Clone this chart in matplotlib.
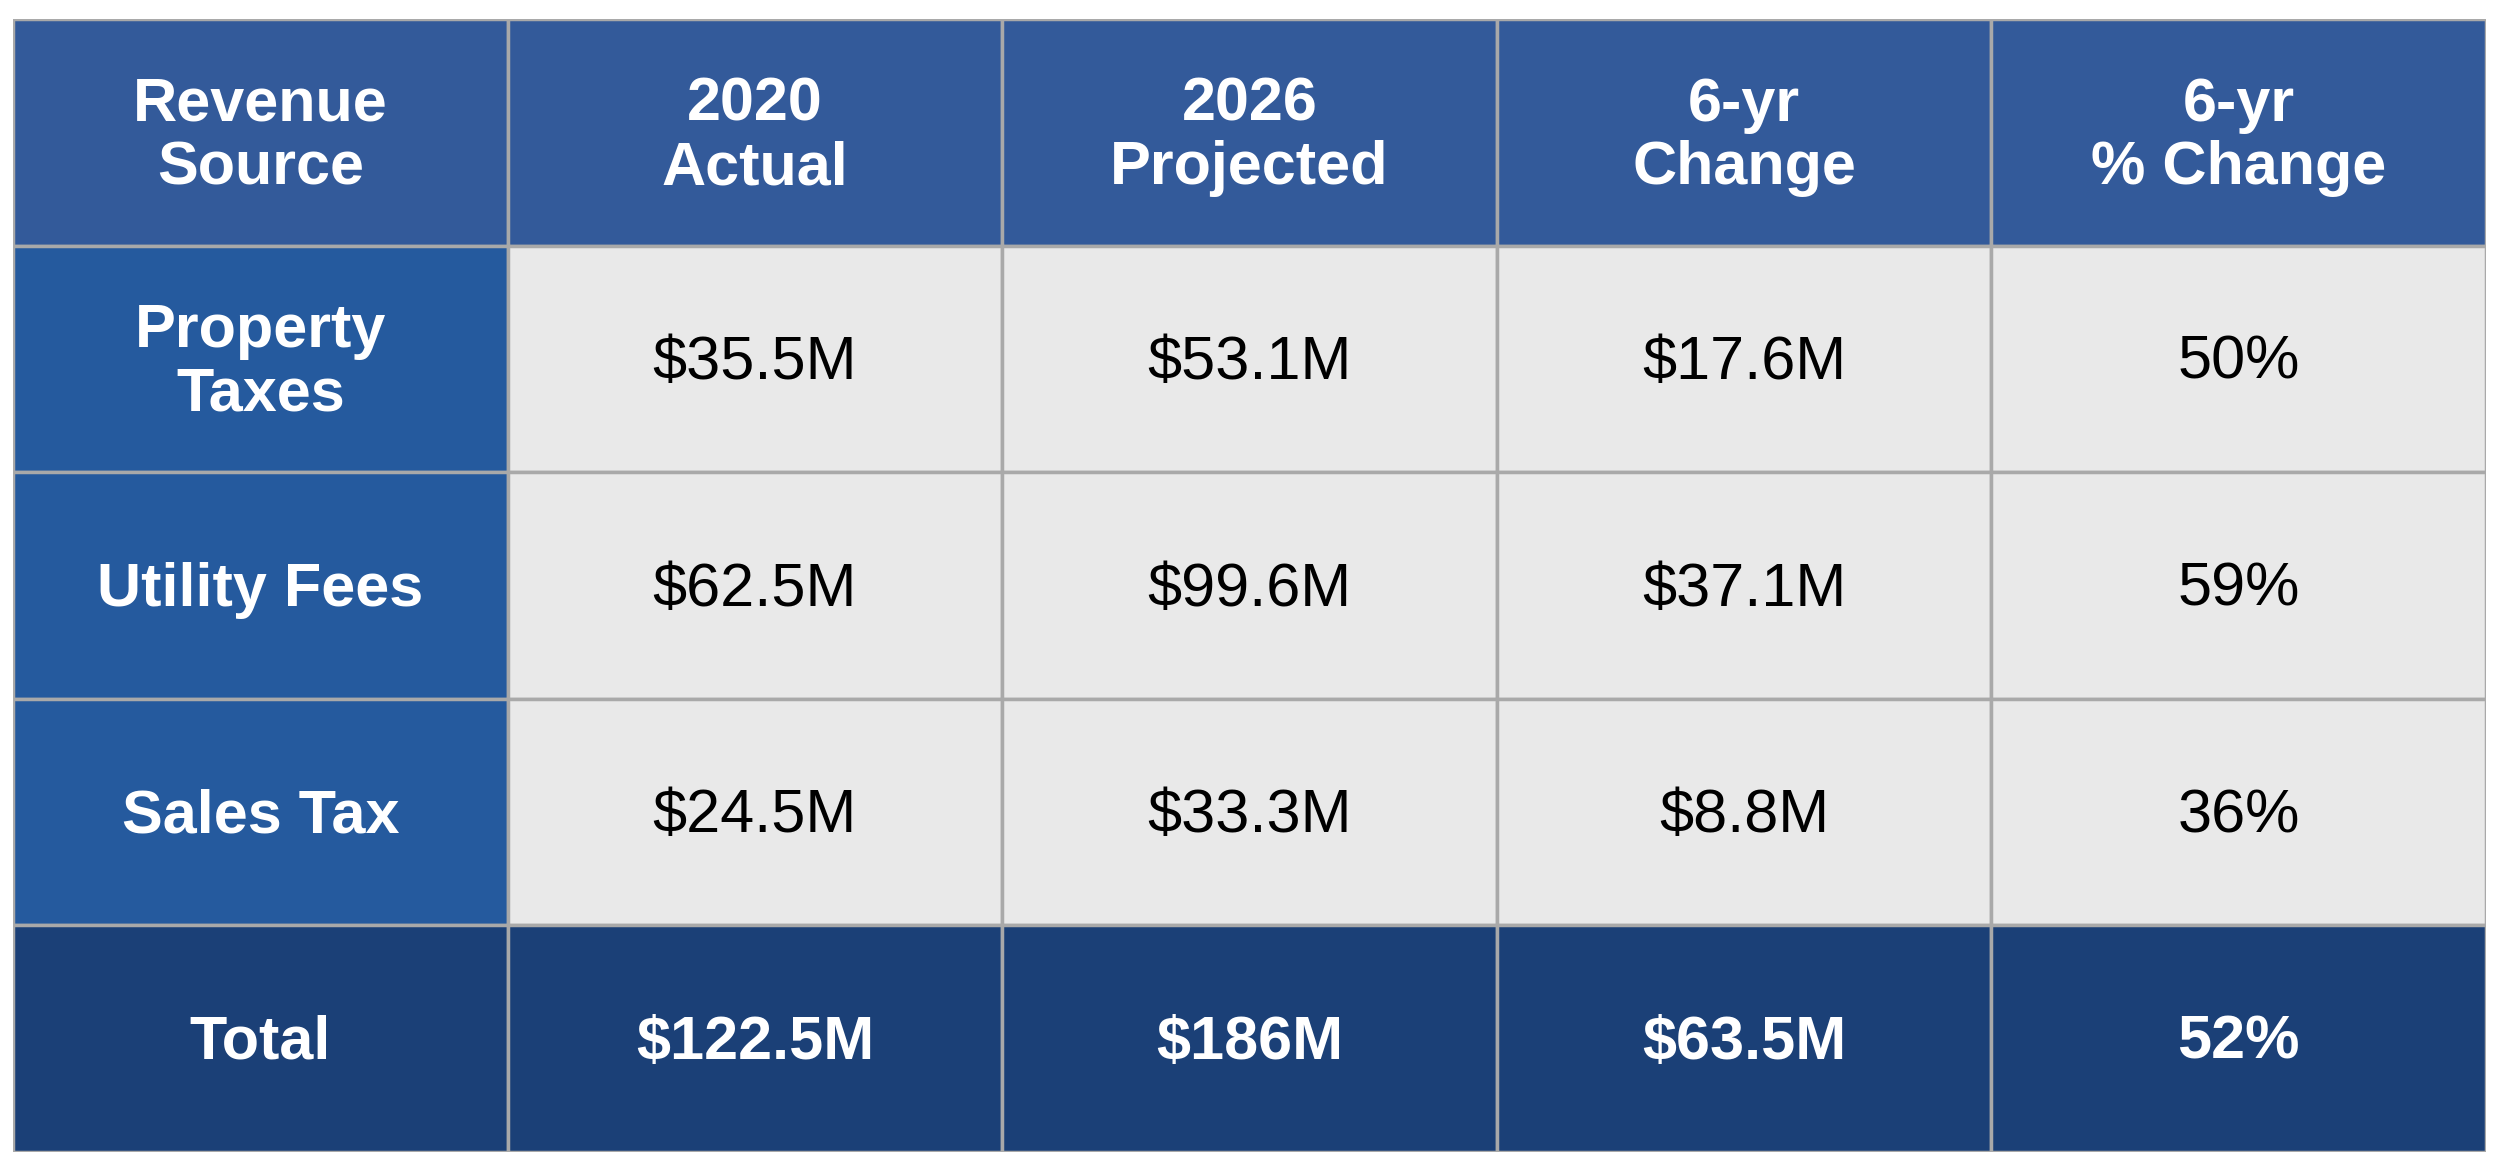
import matplotlib.pyplot as plt
from matplotlib.patches import Rectangle

plt.rcParams['font.family'] = ['Liberation Sans', 'DejaVu Sans']

headers = ["Revenue\nSource", "2020\nActual", "2026\nProjected", "6-yr\nChange", "6-yr\n% Change"]
sources = ["Property\nTaxes", "Utility Fees", "Sales Tax"]
actual_2020 = ["$35.5M", "$62.5M", "$24.5M"]
projected_2026 = ["$53.1M", "$99.6M", "$33.3M"]
change_6yr = ["$17.6M", "$37.1M", "$8.8M"]
pct_change = ["50%", "59%", "36%"]
totals = ["Total", "$122.5M", "$186M", "$63.5M", "52%"]

HEADER_C = "#335a9a"
FIRST_C = "#255a9e"
BODY_C = "#e9e9e9"
TOTAL_C = "#1b4077"
GRID_C = "#a9a9a9"

fig = plt.figure(figsize=(25, 11.76), dpi=100)
ax = fig.add_axes([13/2500, 1 - 1152/1176, (2486-13)/2500, (1152-19)/1176])
ax.set_xlim(0, 5)
ax.set_ylim(5, 0)
ax.axis('off')

rows = [headers]
for i in range(3):
    rows.append([sources[i], actual_2020[i], projected_2026[i], change_6yr[i], pct_change[i]])
rows.append(totals)

for r, row in enumerate(rows):
    for c, txt in enumerate(row):
        if r == 0:
            fc, color, weight = HEADER_C, "white", "bold"
        elif r == 4:
            fc, color, weight = TOTAL_C, "white", "bold"
        elif c == 0:
            fc, color, weight = FIRST_C, "white", "bold"
        else:
            fc, color, weight = BODY_C, "black", "normal"
        ax.add_patch(Rectangle((c, r), 1, 1, facecolor=fc, edgecolor=GRID_C, linewidth=2.5))
        ax.text(c + 0.5, r + 0.52, txt, ha='center', va='center', color=color,
                fontsize=44, fontweight=weight, linespacing=1.15)

fig.savefig("out.png", dpi=100)
